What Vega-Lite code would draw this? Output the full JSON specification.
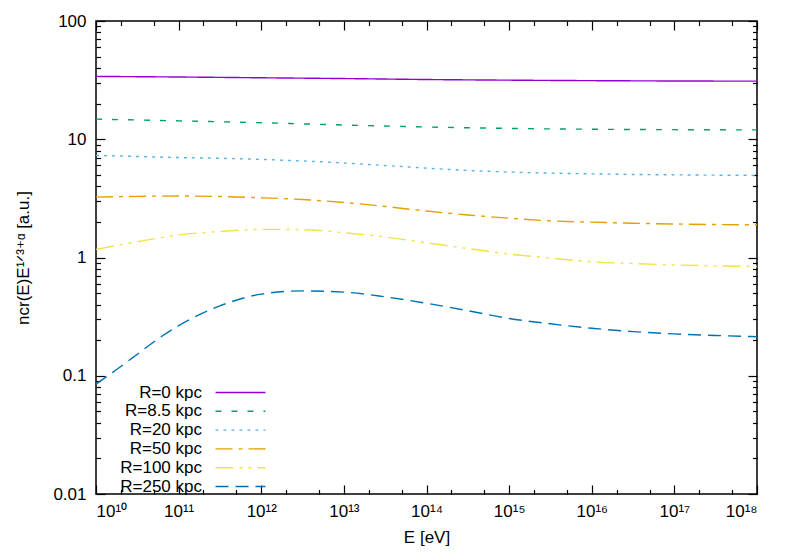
{
  "$schema": "https://vega.github.io/schema/vega-lite/v6.json",
  "width": 661,
  "height": 473,
  "autosize": "none",
  "padding": {"left": 96, "top": 21, "right": 32, "bottom": 58},
  "background": "white",
  "config": {
    "view": {"stroke": "black", "strokeWidth": 1.5},
    "font": "Liberation Sans",
    "axis": {"grid": false, "domain": false, "tickColor": "black", "labelColor": "black", "titleColor": "black", "labelFont": "Liberation Sans", "titleFont": "Liberation Sans", "labelFontSize": 17, "titleFontSize": 17, "titleFontWeight": "normal", "tickWidth": 1.2}
  },
  "data": {"values": [
    {"s": "R=0 kpc", "E": 1e10, "n": 34.0},
    {"s": "R=0 kpc", "E": 1e11, "n": 33.6},
    {"s": "R=0 kpc", "E": 1e12, "n": 33.1},
    {"s": "R=0 kpc", "E": 1e13, "n": 32.6},
    {"s": "R=0 kpc", "E": 1e14, "n": 32.0},
    {"s": "R=0 kpc", "E": 1e15, "n": 31.6},
    {"s": "R=0 kpc", "E": 1e16, "n": 31.3},
    {"s": "R=0 kpc", "E": 1e17, "n": 31.1},
    {"s": "R=0 kpc", "E": 1e18, "n": 31.0},
    {"s": "R=8.5 kpc", "E": 1e10, "n": 14.8},
    {"s": "R=8.5 kpc", "E": 3.162e10, "n": 14.55},
    {"s": "R=8.5 kpc", "E": 1e11, "n": 14.3},
    {"s": "R=8.5 kpc", "E": 1e12, "n": 13.8},
    {"s": "R=8.5 kpc", "E": 1e13, "n": 13.2},
    {"s": "R=8.5 kpc", "E": 1e14, "n": 12.7},
    {"s": "R=8.5 kpc", "E": 1e15, "n": 12.35},
    {"s": "R=8.5 kpc", "E": 1e16, "n": 12.15},
    {"s": "R=8.5 kpc", "E": 1e17, "n": 12.05},
    {"s": "R=8.5 kpc", "E": 1e18, "n": 12.0},
    {"s": "R=20 kpc", "E": 1e10, "n": 7.3},
    {"s": "R=20 kpc", "E": 3.162e10, "n": 7.15},
    {"s": "R=20 kpc", "E": 1e11, "n": 7.0},
    {"s": "R=20 kpc", "E": 3.162e11, "n": 6.9},
    {"s": "R=20 kpc", "E": 1e12, "n": 6.75},
    {"s": "R=20 kpc", "E": 3.162e12, "n": 6.55},
    {"s": "R=20 kpc", "E": 1e13, "n": 6.3},
    {"s": "R=20 kpc", "E": 3.162e13, "n": 6.0},
    {"s": "R=20 kpc", "E": 1e14, "n": 5.7},
    {"s": "R=20 kpc", "E": 3.162e14, "n": 5.45},
    {"s": "R=20 kpc", "E": 1e15, "n": 5.28},
    {"s": "R=20 kpc", "E": 3.162e15, "n": 5.17},
    {"s": "R=20 kpc", "E": 1e16, "n": 5.1},
    {"s": "R=20 kpc", "E": 3.162e16, "n": 5.04},
    {"s": "R=20 kpc", "E": 1e17, "n": 5.0},
    {"s": "R=20 kpc", "E": 3.162e17, "n": 4.97},
    {"s": "R=20 kpc", "E": 1e18, "n": 4.95},
    {"s": "R=50 kpc", "E": 1e10, "n": 3.24},
    {"s": "R=50 kpc", "E": 3.162e10, "n": 3.29},
    {"s": "R=50 kpc", "E": 1e11, "n": 3.31},
    {"s": "R=50 kpc", "E": 3.162e11, "n": 3.28},
    {"s": "R=50 kpc", "E": 1e12, "n": 3.2},
    {"s": "R=50 kpc", "E": 3.162e12, "n": 3.09},
    {"s": "R=50 kpc", "E": 1e13, "n": 2.92},
    {"s": "R=50 kpc", "E": 3.162e13, "n": 2.7},
    {"s": "R=50 kpc", "E": 1e14, "n": 2.47},
    {"s": "R=50 kpc", "E": 3.162e14, "n": 2.29},
    {"s": "R=50 kpc", "E": 1e15, "n": 2.15},
    {"s": "R=50 kpc", "E": 3.162e15, "n": 2.04},
    {"s": "R=50 kpc", "E": 1e16, "n": 1.99},
    {"s": "R=50 kpc", "E": 3.162e16, "n": 1.95},
    {"s": "R=50 kpc", "E": 1e17, "n": 1.92},
    {"s": "R=50 kpc", "E": 3.162e17, "n": 1.9},
    {"s": "R=50 kpc", "E": 1e18, "n": 1.89},
    {"s": "R=100 kpc", "E": 1e10, "n": 1.17},
    {"s": "R=100 kpc", "E": 3.162e10, "n": 1.36},
    {"s": "R=100 kpc", "E": 1e11, "n": 1.55},
    {"s": "R=100 kpc", "E": 3.162e11, "n": 1.66},
    {"s": "R=100 kpc", "E": 1e12, "n": 1.73},
    {"s": "R=100 kpc", "E": 3.162e12, "n": 1.72},
    {"s": "R=100 kpc", "E": 1e13, "n": 1.62},
    {"s": "R=100 kpc", "E": 3.162e13, "n": 1.49},
    {"s": "R=100 kpc", "E": 1e14, "n": 1.33},
    {"s": "R=100 kpc", "E": 3.162e14, "n": 1.19},
    {"s": "R=100 kpc", "E": 1e15, "n": 1.07},
    {"s": "R=100 kpc", "E": 3.162e15, "n": 0.99},
    {"s": "R=100 kpc", "E": 1e16, "n": 0.92},
    {"s": "R=100 kpc", "E": 3.162e16, "n": 0.89},
    {"s": "R=100 kpc", "E": 1e17, "n": 0.865},
    {"s": "R=100 kpc", "E": 3.162e17, "n": 0.85},
    {"s": "R=100 kpc", "E": 1e18, "n": 0.84},
    {"s": "R=250 kpc", "E": 1e10, "n": 0.085},
    {"s": "R=250 kpc", "E": 1.778e10, "n": 0.113},
    {"s": "R=250 kpc", "E": 3.162e10, "n": 0.152},
    {"s": "R=250 kpc", "E": 5.623e10, "n": 0.205},
    {"s": "R=250 kpc", "E": 1e11, "n": 0.265},
    {"s": "R=250 kpc", "E": 3.162e11, "n": 0.39},
    {"s": "R=250 kpc", "E": 1e12, "n": 0.49},
    {"s": "R=250 kpc", "E": 3.162e12, "n": 0.522},
    {"s": "R=250 kpc", "E": 1e13, "n": 0.51},
    {"s": "R=250 kpc", "E": 3.162e13, "n": 0.465},
    {"s": "R=250 kpc", "E": 1e14, "n": 0.41},
    {"s": "R=250 kpc", "E": 3.162e14, "n": 0.355},
    {"s": "R=250 kpc", "E": 1e15, "n": 0.305},
    {"s": "R=250 kpc", "E": 3.162e15, "n": 0.275},
    {"s": "R=250 kpc", "E": 1e16, "n": 0.252},
    {"s": "R=250 kpc", "E": 3.162e16, "n": 0.236},
    {"s": "R=250 kpc", "E": 1e17, "n": 0.226},
    {"s": "R=250 kpc", "E": 3.162e17, "n": 0.219},
    {"s": "R=250 kpc", "E": 1e18, "n": 0.214}
  ]},
  "resolve": {"axis": {"x": "independent", "y": "independent"}},
  "layer": [
    {
      "mark": {"type": "line", "interpolate": "monotone", "strokeWidth": 1.4, "clip": true},
      "encoding": {
        "x": {"field": "E", "type": "quantitative",
          "scale": {"type": "log", "domain": [1e10, 1e18], "nice": false},
          "axis": {"orient": "bottom", "title": "E [eV]", "titlePadding": 10,
            "values": [1e10, 1e11, 1e12, 1e13, 1e14, 1e15, 1e16, 1e17, 1e18],
            "labelExpr": "'10¹' + substring('⁰¹²³⁴⁵⁶⁷⁸', round(log(datum.value)/LN10) - 10, round(log(datum.value)/LN10) - 9)",
            "tickSize": -9, "labelPadding": 18}},
        "y": {"field": "n", "type": "quantitative",
          "scale": {"type": "log", "domain": [0.01, 100], "nice": false},
          "axis": {"orient": "left", "title": "ncr(E)E¹ᐟ³⁺ᵅ [a.u.]", "titlePadding": 20,
            "values": [0.01, 0.1, 1, 10, 100], "format": "~g",
            "tickSize": -9, "labelPadding": 19}},
        "color": {"field": "s", "type": "nominal",
          "scale": {"domain": ["R=0 kpc", "R=8.5 kpc", "R=20 kpc", "R=50 kpc", "R=100 kpc", "R=250 kpc"],
            "range": ["#9400d3", "#009e73", "#56b4e9", "#e69f00", "#f0e442", "#0072b2"]},
          "legend": {"title": null, "orient": "none", "legendX": 136, "legendY": 363,
            "symbolType": "M-5,0H5", "symbolSize": 100, "symbolStrokeWidth": 1.4,
            "labelAlign": "right", "labelOffset": -47, "labelFontSize": 17, "labelFont": "Liberation Sans",
            "labelColor": "black", "rowPadding": 0.8, "padding": 0}},
        "strokeDash": {"field": "s", "type": "nominal",
          "scale": {"domain": ["R=0 kpc", "R=8.5 kpc", "R=20 kpc", "R=50 kpc", "R=100 kpc", "R=250 kpc"],
            "range": [[1, 0], [6, 10], [3, 5], [17, 6, 4, 6], [18, 6, 3, 6, 3, 6], [13, 7]]},
          "legend": {"title": null, "orient": "none", "legendX": 136, "legendY": 363,
            "symbolType": "M-5,0H5", "symbolSize": 100, "symbolStrokeWidth": 1.4,
            "labelAlign": "right", "labelOffset": -47, "labelFontSize": 17, "labelFont": "Liberation Sans",
            "labelColor": "black", "rowPadding": 0.8, "padding": 0}}
      }
    },
    {
      "mark": {"type": "point", "opacity": 0},
      "encoding": {
        "x": {"field": "E", "type": "quantitative",
          "axis": {"orient": "bottom", "title": null, "labels": false, "tickSize": -4.5,
            "values": [2e10, 5e10, 2e11, 5e11, 2e12, 5e12, 2e13, 5e13, 2e14, 5e14, 2e15, 5e15, 2e16, 5e16, 2e17, 5e17]}},
        "y": {"field": "n", "type": "quantitative",
          "axis": {"orient": "left", "title": null, "labels": false, "tickSize": -4.5,
            "values": [0.02, 0.03, 0.04, 0.05, 0.06, 0.07, 0.08, 0.09, 0.2, 0.3, 0.4, 0.5, 0.6, 0.7, 0.8, 0.9, 2, 3, 4, 5, 6, 7, 8, 9, 20, 30, 40, 50, 60, 70, 80, 90]}}
      }
    },
    {
      "mark": {"type": "point", "opacity": 0},
      "encoding": {
        "x": {"field": "E", "type": "quantitative",
          "axis": {"orient": "top", "title": null, "labels": false, "tickSize": -9,
            "values": [1e10, 1e11, 1e12, 1e13, 1e14, 1e15, 1e16, 1e17, 1e18]}},
        "y": {"field": "n", "type": "quantitative",
          "axis": {"orient": "right", "title": null, "labels": false, "tickSize": -9,
            "values": [0.01, 0.1, 1, 10, 100]}}
      }
    },
    {
      "mark": {"type": "point", "opacity": 0},
      "encoding": {
        "x": {"field": "E", "type": "quantitative",
          "axis": {"orient": "top", "title": null, "labels": false, "tickSize": -4.5,
            "values": [2e10, 5e10, 2e11, 5e11, 2e12, 5e12, 2e13, 5e13, 2e14, 5e14, 2e15, 5e15, 2e16, 5e16, 2e17, 5e17]}},
        "y": {"field": "n", "type": "quantitative",
          "axis": {"orient": "right", "title": null, "labels": false, "tickSize": -4.5,
            "values": [0.02, 0.03, 0.04, 0.05, 0.06, 0.07, 0.08, 0.09, 0.2, 0.3, 0.4, 0.5, 0.6, 0.7, 0.8, 0.9, 2, 3, 4, 5, 6, 7, 8, 9, 20, 30, 40, 50, 60, 70, 80, 90]}}
      }
    }
  ]
}
